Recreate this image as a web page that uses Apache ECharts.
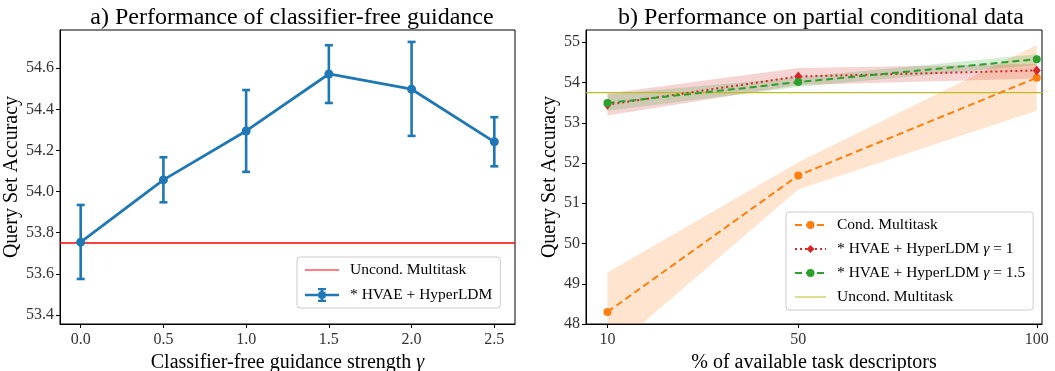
<!DOCTYPE html>
<html><head><meta charset="utf-8">
<script src="https://cdn.jsdelivr.net/npm/echarts@6/dist/echarts.min.js"></script>
<style>html,body{margin:0;padding:0;background:#fff;overflow:hidden}#c{width:1055px;height:371px}</style>
</head><body><div id="c"></div>
<script>
// ---- Panel a) data ----
const gammaVals = [0.0, 0.5, 1.0, 1.5, 2.0, 2.5];
const hvaeMean  = [53.754, 54.057, 54.295, 54.572, 54.498, 54.242];
const hvaeLow   = [53.575, 53.948, 54.096, 54.431, 54.271, 54.123];
const hvaeHigh  = [53.935, 54.167, 54.494, 54.712, 54.728, 54.362];
const uncondA   = 53.75;
const aXTicks = [0, 0.5, 1.0, 1.5, 2.0, 2.5];
const aYTicks = [53.4, 53.6, 53.8, 54.0, 54.2, 54.4, 54.6];

// ---- Panel b) data ----
const pctVals   = [10, 50, 100];
const condMean  = [48.30, 51.69, 54.12];
const condLow   = [47.27, 51.34, 53.30];
const condHigh  = [49.28, 52.02, 54.93];
const g1Mean    = [53.45, 54.15, 54.30];
const g1Low     = [53.18, 53.94, 54.10];
const g1High    = [53.73, 54.36, 54.46];
const g15Mean   = [53.49, 54.01, 54.58];
const g15Low    = [53.30, 53.89, 54.44];
const g15High   = [53.70, 54.13, 54.70];
const uncondB   = 53.75;
const bXTicks = [10, 50, 100];
const bYTicks = [48, 49, 50, 51, 52, 53, 54, 55];

const FONT = '"Liberation Serif", "DejaVu Serif", serif';
const C = {blue:'#1f77b4', orange:'#ff7f0e', red:'#d62728', green:'#2ca02c', olive:'#bcbd22', pure:'#ff0000'};

const pairs = (xs, ys) => xs.map((x, i) => [x, ys[i]]);

function bandSeries(name, lo, hi, color) {
  return {
    type:'custom', name: name + '_band', xAxisIndex:1, yAxisIndex:1, clip:true, silent:true, z:1,
    data: pctVals.map((x, i) => [x, lo[i], hi[i]]),
    encode:{x:0, y:[1,2]},
    renderItem(params, api) {
      if (params.dataIndex !== 0) return null;
      const top = pctVals.map((x, i) => api.coord([x, hi[i]]));
      const bot = pctVals.map((x, i) => api.coord([x, lo[i]])).reverse();
      const cs = params.coordSys;
      return {type:'group', children:[{
        type:'polygon', shape:{points: top.concat(bot)},
        style:{fill: color, opacity: 0.2}
      }], clipPath:{type:'rect', shape:{x:cs.x, y:cs.y, width:cs.width, height:cs.height}}};
    }
  };
}

function hLine(name, xi, yVal, color) {
  // horizontal reference line across the full x-extent of a grid, placed via the axes
  return {
    type:'custom', name, xAxisIndex:xi, yAxisIndex:xi, silent:true, z:2,
    data:[[yVal]], encode:{y:0},
    renderItem(params, api) {
      const cs = params.coordSys;
      const y = api.coord([0, api.value(0)])[1];
      return {type:'line', shape:{x1:cs.x, y1:y, x2:cs.x + cs.width, y2:y},
        style:{stroke: color, lineWidth: 1.3}};
    }
  };
}

const tickLabel = {fontFamily: FONT, fontSize: 16, color:'#333'};
const axisCommon = {
  axisLine:{show:true, onZero:false, lineStyle:{color:'#000', width:1}},
  axisTick:{show:true, length:4, lineStyle:{color:'#000'}},
  splitLine:{show:false},
  nameTextStyle:{fontFamily: FONT, fontSize: 20, color:'#000',
    rich:{i:{fontFamily: FONT, fontSize: 20, fontStyle:'italic', color:'#000'}}}
};

const errorBar = {
  type:'custom', name:'* HVAE + HyperLDM', xAxisIndex:0, yAxisIndex:0,
  data: gammaVals.map((g, i) => [g, hvaeLow[i], hvaeHigh[i]]),
  encode:{x:0, y:[1,2]}, z:3,
  renderItem(params, api) {
    const lo = api.coord([api.value(0), api.value(1)]);
    const hi = api.coord([api.value(0), api.value(2)]);
    const w = 4;
    const st = {stroke: C.blue, lineWidth: 2.6};
    return {type:'group', children:[
      {type:'line', shape:{x1:lo[0], y1:lo[1], x2:hi[0], y2:hi[1]}, style:st},
      {type:'line', shape:{x1:lo[0]-w, y1:lo[1], x2:lo[0]+w, y2:lo[1]}, style:st},
      {type:'line', shape:{x1:hi[0]-w, y1:hi[1], x2:hi[0]+w, y2:hi[1]}, style:st}
    ]};
  }
};

const legendBox = {
  backgroundColor:'rgba(255,255,255,0.85)', borderColor:'#ccc', borderWidth:1, borderRadius:3,
  textStyle:{fontFamily: FONT, fontSize:15.5, color:'#000', padding:[0,0,0,6],
    rich:{i:{fontFamily: FONT, fontSize:15.5, fontStyle:'italic', color:'#000'}}}
};

const option = {
  animation:false,
  backgroundColor:'#fff',
  title:[
    {text:'a) Performance of classifier-free guidance', left:287, top:1, textAlign:'center',
     textStyle:{fontFamily: FONT, fontSize:24, fontWeight:'normal', color:'#000'}},
    {text:'b) Performance on partial conditional data', left:816, top:1, textAlign:'center',
     textStyle:{fontFamily: FONT, fontSize:24, fontWeight:'normal', color:'#000'}}
  ],
  grid:[
    {left:60, right:540, top:30, bottom:47, show:true, borderColor:'#000', borderWidth:1,
     containLabel:false, outerBoundsMode:'none'},
    {left:586, right:13, top:30, bottom:47, show:true, borderColor:'#000', borderWidth:1,
     containLabel:false, outerBoundsMode:'none'}
  ],
  xAxis:[
    Object.assign({}, axisCommon, {type:'value', gridIndex:0, min:-0.125, max:2.625,
      name:'Classifier-free guidance strength {i|γ}', nameLocation:'middle', nameGap:23,
      axisLabel:Object.assign({}, tickLabel, {customValues:aXTicks, formatter:v=>v.toFixed(1), margin:8}),
      axisTick:Object.assign({}, axisCommon.axisTick, {customValues:aXTicks})}),
    Object.assign({}, axisCommon, {type:'value', gridIndex:1, min:5.5, max:101.1,
      name:'% of available task descriptors', nameLocation:'middle', nameGap:23,
      axisLabel:Object.assign({}, tickLabel, {customValues:bXTicks, formatter:v=>String(v), margin:8}),
      axisTick:Object.assign({}, axisCommon.axisTick, {customValues:bXTicks})})
  ],
  yAxis:[
    Object.assign({}, axisCommon, {type:'value', gridIndex:0, min:53.356, max:54.786,
      name:'Query Set Accuracy', nameLocation:'middle', nameGap:37,
      axisLabel:Object.assign({}, tickLabel, {customValues:aYTicks, formatter:v=>v.toFixed(1), margin:6}),
      axisTick:Object.assign({}, axisCommon.axisTick, {customValues:aYTicks})}),
    Object.assign({}, axisCommon, {type:'value', gridIndex:1, min:48, max:55.305,
      name:'Query Set Accuracy', nameLocation:'middle', nameGap:22,
      axisLabel:Object.assign({}, tickLabel, {customValues:bYTicks, formatter:v=>String(v), margin:6}),
      axisTick:Object.assign({}, axisCommon.axisTick, {customValues:bYTicks})})
  ],
  legend:[
    Object.assign({}, legendBox, {
      orient:'vertical', left:297, top:257, padding:[5,8], itemGap:9, itemWidth:34, itemHeight:14,
      data:[
        {name:'Uncond. Multitask L', icon:'path://M0,0 L0.01,0 L0.01,0.01 Z M0,6.4 L34,6.4 L34,7.6 L0,7.6 Z M0,14 L0.01,14 L0.01,13.99 Z',
         itemStyle:{color:C.pure}},
        {name:'* HVAE + HyperLDM', icon:'path://M0,5.7 L34,5.7 L34,8.3 L0,8.3 Z M15.7,0 L18.3,0 L18.3,14 L15.7,14 Z M13,0 L21,0 L21,2.2 L13,2.2 Z M13,11.8 L21,11.8 L21,14 L13,14 Z M21,7 A4,4 0 1,1 13,7 A4,4 0 1,1 21,7 Z',
         itemStyle:{color:C.blue}}
      ],
      formatter: n => n === 'Uncond. Multitask L' ? 'Uncond. Multitask' : n
    }),
    Object.assign({}, legendBox, {
      orient:'vertical', left:786, top:212, padding:[5,8], itemGap:8, itemWidth:31, itemHeight:10,
      data:['Cond. Multitask', '* HVAE + HyperLDM γ = 1', '* HVAE + HyperLDM γ = 1.5',
        {name:'Uncond. Multitask', icon:'path://M0,0 L0.01,0 L0.01,0.01 Z M0,4.4 L31,4.4 L31,5.6 L0,5.6 Z M0,10 L0.01,10 L0.01,9.99 Z',
         itemStyle:{color:C.olive}}],
      formatter: n => n.replace('γ = ', '{i|γ} = ')
    })
  ],
  series:[
    // panel a
    hLine('Uncond. Multitask L', 0, uncondA, C.pure),
    errorBar,
    {type:'line', name:'* HVAE + HyperLDM', xAxisIndex:0, yAxisIndex:0, data: pairs(gammaVals, hvaeMean),
     symbol:'circle', symbolSize:9, lineStyle:{color:C.blue, width:2.8}, itemStyle:{color:C.blue}, z:4},
    // panel b bands
    bandSeries('cond', condLow, condHigh, C.orange),
    bandSeries('g1', g1Low, g1High, C.red),
    bandSeries('g15', g15Low, g15High, C.green),
    hLine('Uncond. Multitask', 1, uncondB, C.olive),
    {type:'line', name:'Cond. Multitask', xAxisIndex:1, yAxisIndex:1, data: pairs(pctVals, condMean),
     symbol:'circle', symbolSize:8, lineStyle:{color:C.orange, width:2, type:[7,4]}, itemStyle:{color:C.orange}, z:4},
    {type:'line', name:'* HVAE + HyperLDM γ = 1', xAxisIndex:1, yAxisIndex:1, data: pairs(pctVals, g1Mean),
     symbol:'diamond', symbolSize:[8,10], lineStyle:{color:C.red, width:2, type:[2,3]}, itemStyle:{color:C.red}, z:4},
    {type:'line', name:'* HVAE + HyperLDM γ = 1.5', xAxisIndex:1, yAxisIndex:1, data: pairs(pctVals, g15Mean),
     symbol:'circle', symbolSize:8, lineStyle:{color:C.green, width:2, type:[7,4]}, itemStyle:{color:C.green}, z:4}
  ]
};
const chart = echarts.init(document.getElementById('c'), null, {renderer:'canvas'});
chart.setOption(option);
</script></body></html>
